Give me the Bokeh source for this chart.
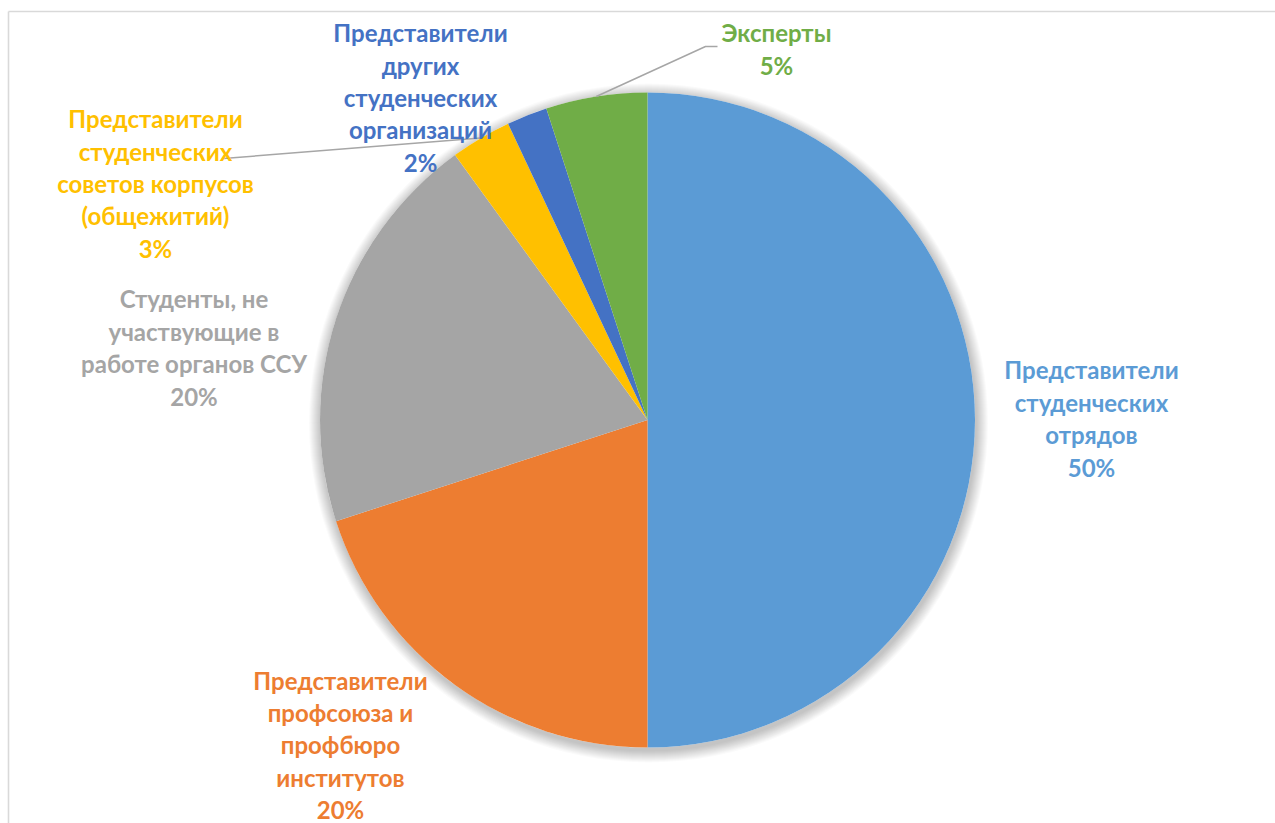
import numpy as np
from bokeh.plotting import figure
from bokeh.models import Range1d
from bokeh.core.properties import value
from bokeh.embed import file_html
from bokeh.resources import INLINE

# ---- data ----
categories = [
    "Представители\nстуденческих\nотрядов",
    "Представители\nпрофсоюза и\nпрофбюро\nинститутов",
    "Студенты, не\nучаствующие в\nработе органов ССУ",
    "Представители\nстуденческих\nсоветов корпусов\n(общежитий)",
    "Представители\nдругих\nстуденческих\nорганизаций",
    "Эксперты",
]
values = [50, 20, 20, 3, 2, 5]
colors = ["#5B9BD5", "#ED7D31", "#A5A5A5", "#FFC000", "#4472C4", "#70AD47"]

# ---- layout (screen pixel coordinates of the picture) ----
W, H = 1275, 823
TOP = H


def Y(sy):
    return TOP - sy


CX, CY, R = 647, Y(419.5), 327.5
label_pos = [(1091, 418), (340, 744.5), (193.5, 347), (155, 183), (420, 97), (776, 48.5)]
FONT = "Lato"
FS = 24

p = figure(width=W, height=H, x_range=Range1d(0, W), y_range=Range1d(0, H),
           x_axis_type=None, y_axis_type=None, toolbar_location=None,
           output_backend="svg", min_border=0, outline_line_color=None)
p.grid.visible = False
p.background_fill_color = "white"

# frame lines
p.line([8, W], [Y(11), Y(11)], line_color="#d9d9d9", line_width=1.6)
p.line([8, 8], [0, Y(11)], line_color="#d9d9d9", line_width=1.6)

# soft shadow
for k in range(12):
    p.circle(x=CX + 1, y=CY - 3, radius=R + 1 + k, fill_color="black",
             fill_alpha=0.018, line_color=None)
p.circle(x=CX, y=CY, radius=R, fill_color="white", line_color=None)

vals = np.array(values, dtype=float)
frac = vals / vals.sum()
cum = np.concatenate([[0], np.cumsum(frac)])
start = np.pi / 2 - 2 * np.pi * cum[:-1]
end = np.pi / 2 - 2 * np.pi * cum[1:]

p.wedge(x=CX, y=CY, radius=R, start_angle=start, end_angle=end,
        direction="clock", fill_color=colors, line_color=None)

mid = (start + end) / 2
mx = CX + R * np.cos(mid)
my = CY + R * np.sin(mid)

# leader lines (yellow and green slices)
p.line([mx[3], 223], [my[3], Y(158)], line_color="#a6a6a6", line_width=1.5)
p.line([mx[5], 705, 717], [my[5], Y(46), Y(46)], line_color="#a6a6a6", line_width=1.5)

texts = [f"{c}\n{v}%" for c, v in zip(categories, values)]
p.text(x=[lp[0] for lp in label_pos], y=[Y(lp[1]) for lp in label_pos], text=texts,
       text_align="center", text_baseline="middle", text_font=value(FONT),
       text_font_style="bold", text_font_size=f"{FS}px", text_line_height=1.12,
       text_color=colors)

open("out.html", "w").write(file_html(p, INLINE))
